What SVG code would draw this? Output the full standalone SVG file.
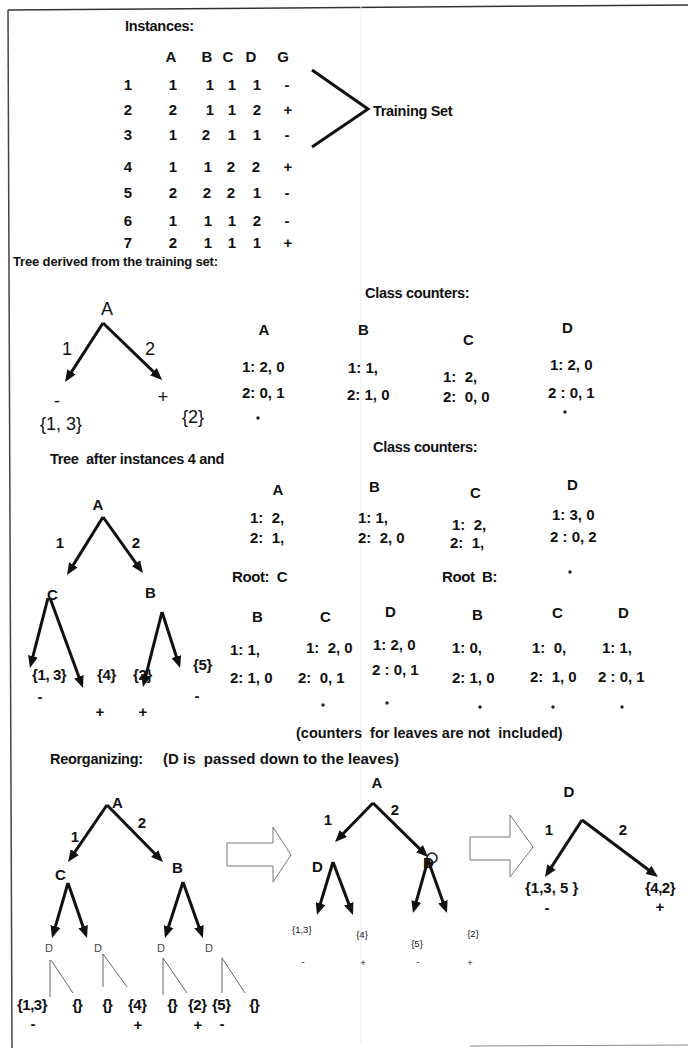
<svg xmlns="http://www.w3.org/2000/svg" width="688" height="1050" viewBox="0 0 688 1050">
<style>
text{font-family:"Liberation Sans",Arial,sans-serif;fill:#111;white-space:pre}
.b{font-weight:bold}
.h{font-weight:bold;font-size:14.5px;letter-spacing:-0.3px}
.t{font-weight:bold;font-size:15px;text-anchor:middle}
.c{font-weight:bold;font-size:15px}
.r{font-size:18px}
.s{font-size:9.5px}
.d{font-size:11px;fill:#444}
.e{stroke:#111;stroke-width:3;fill:none;marker-end:url(#ah)}
.th{stroke:#666;stroke-width:1;fill:none}
.ho{stroke:#777;stroke-width:1;fill:#fff}
.m{text-anchor:middle}
</style>
<defs>
<marker id="ah" viewBox="0 0 12 10" refX="5" refY="5" markerWidth="12" markerHeight="10" markerUnits="userSpaceOnUse" orient="auto"><path d="M0,0 L12,5 L0,10 z" fill="#111"/></marker>
</defs>
<rect width="688" height="1050" fill="#fff"/>
<g id="page-frame">
<line x1="8" y1="10" x2="688" y2="5" stroke="#333" stroke-width="1.5"/>
<line x1="8" y1="10" x2="12" y2="1048" stroke="#444" stroke-width="1.5"/>
<line x1="470" y1="1046" x2="688" y2="1045" stroke="#888" stroke-width="1"/>
<line x1="361" y1="6" x2="361" y2="1045" stroke="#ededed" stroke-width="1"/>
</g>

<g id="instances-table">
<text class="h" x="125" y="31">Instances:</text>
<text class="t" x="171" y="62">A</text><text class="t" x="207" y="62">B</text><text class="t" x="228" y="62">C</text><text class="t" x="251" y="62">D</text><text class="t" x="283" y="62">G</text>
<g id="row1"><text class="t" x="128" y="90">1</text><text class="t" x="173" y="90">1</text><text class="t" x="210" y="90">1</text><text class="t" x="232" y="90">1</text><text class="t" x="257" y="90">1</text><text class="t" x="287" y="90">-</text></g>
<g id="row2"><text class="t" x="128" y="115">2</text><text class="t" x="173" y="115">2</text><text class="t" x="210" y="115">1</text><text class="t" x="232" y="115">1</text><text class="t" x="257" y="115">2</text><text class="t" x="288" y="115">+</text></g>
<g id="row3"><text class="t" x="128" y="140">3</text><text class="t" x="173" y="140">1</text><text class="t" x="206" y="140">2</text><text class="t" x="232" y="140">1</text><text class="t" x="257" y="140">1</text><text class="t" x="287" y="140">-</text></g>
<g id="row4"><text class="t" x="128" y="172">4</text><text class="t" x="173" y="172">1</text><text class="t" x="208" y="172">1</text><text class="t" x="231" y="172">2</text><text class="t" x="256" y="172">2</text><text class="t" x="288" y="172">+</text></g>
<g id="row5"><text class="t" x="128" y="198">5</text><text class="t" x="173" y="198">2</text><text class="t" x="207" y="198">2</text><text class="t" x="231" y="198">2</text><text class="t" x="257" y="198">1</text><text class="t" x="287" y="198">-</text></g>
<g id="row6"><text class="t" x="128" y="226">6</text><text class="t" x="173" y="226">1</text><text class="t" x="208" y="226">1</text><text class="t" x="232" y="226">1</text><text class="t" x="257" y="226">2</text><text class="t" x="287" y="226">-</text></g>
<g id="row7"><text class="t" x="128" y="248">7</text><text class="t" x="173" y="248">2</text><text class="t" x="208" y="248">1</text><text class="t" x="232" y="248">1</text><text class="t" x="257" y="248">1</text><text class="t" x="288" y="248">+</text></g>
</g>

<g id="training-set">
<polyline points="312,70 368,109 312,147" stroke="#111" stroke-width="3" fill="none"/>
<text class="h" x="373" y="116">Training Set</text>
</g>

<text class="b" x="13" y="266" font-size="13" letter-spacing="-0.15">Tree derived from the training set:</text>

<g id="tree1">
<g id="t1-A"><text class="r m" x="107" y="315">A</text></g>
<text class="r m" x="67" y="355" font-size="17">1</text>
<text class="r m" x="150" y="355" font-size="17">2</text>
<g id="t1-leaf1"><text class="r m" x="57" y="407" font-size="16">-</text><text class="r" x="40" y="430">{1, 3}</text></g>
<g id="t1-leaf2"><text class="r m" x="163" y="403" font-size="16">+</text><text class="r" x="182" y="423">{2}</text></g>
</g>

<g id="counters-1">
<text class="h" x="365" y="298">Class counters:</text>
<text class="c m" x="264" y="335">A</text><text class="c" x="242" y="372">1: 2, 0</text><text class="c" x="242" y="398">2: 0, 1</text><circle cx="258" cy="418" r="1.7" fill="#222"/>
<text class="c" x="358" y="335">B</text><text class="c" x="348" y="373">1: 1,</text><text class="c" x="347" y="400">2: 1, 0</text>
<text class="c" x="463" y="345">C</text><text class="c" x="443" y="382">1:  2,</text><text class="c" x="443" y="402">2:  0, 0</text>
<text class="c" x="562" y="333">D</text><text class="c" x="550" y="370">1: 2, 0</text><text class="c" x="548" y="398">2 : 0, 1</text><circle cx="565" cy="412" r="1.7" fill="#222"/>
</g>

<text class="h" x="50" y="464">Tree  after instances 4 and</text>

<g id="tree2">
<g id="t2-A"><text class="c m" x="98" y="510">A</text></g>
<text class="c m" x="60" y="548">1</text><text class="c m" x="136" y="548">2</text>
<g id="t2-C"><text class="c" x="47" y="600">C</text></g>
<g id="t2-B"><text class="c" x="145" y="598">B</text></g>
<g id="t2-leaves">
<text class="c" x="32" y="680" font-size="13.5" letter-spacing="-0.4">{1, 3}</text>
<text class="c" x="97" y="680" font-size="13.5" letter-spacing="-0.4">{4}</text>
<text class="c" x="133" y="680" font-size="13.5" letter-spacing="-0.4">{2}</text>
<text class="c" x="193" y="670" font-size="13.5" letter-spacing="-0.4">{5}</text>
<text class="c m" x="40" y="702" font-size="14">-</text>
<text class="c m" x="100" y="717" font-size="14">+</text>
<text class="c m" x="143" y="717" font-size="14">+</text>
<text class="c m" x="197" y="701" font-size="14">-</text>
</g>
</g>

<g id="counters-2">
<text class="c m" x="278" y="495">A</text><text class="c" x="250" y="523">1:  2,</text><text class="c" x="250" y="543">2:  1,</text>
<text class="c" x="232" y="582" letter-spacing="-0.4">Root:  C</text>
<text class="c" x="252" y="622">B</text><text class="c" x="320" y="622">C</text>
<text class="c" x="230" y="655">1: 1,</text><text class="c" x="306" y="653">1:  2, 0</text>
<text class="c" x="230" y="683">2: 1, 0</text><text class="c" x="298" y="683">2:  0, 1</text><circle cx="323" cy="705" r="1.7" fill="#222"/>
</g>

<g id="counters-3">
<text class="h" x="373" y="452">Class counters:</text>
<text class="c" x="369" y="492">B</text><text class="c" x="358" y="523">1: 1,</text><text class="c" x="358" y="543">2:  2, 0</text>
<text class="c" x="470" y="498">C</text><text class="c" x="452" y="530">1:  2,</text><text class="c" x="450" y="548">2:  1,</text>
<text class="c" x="567" y="490">D</text><text class="c" x="552" y="520">1: 3, 0</text><text class="c" x="550" y="542">2 : 0, 2</text><circle cx="570" cy="572" r="1.7" fill="#222"/>
<text class="c" x="442" y="582" letter-spacing="-0.4">Root  B:</text>
<text class="c" x="385" y="617">D</text><text class="c" x="373" y="650">1: 2, 0</text><text class="c" x="372" y="675">2 : 0, 1</text><circle cx="387" cy="703" r="1.7" fill="#222"/>
<text class="c" x="472" y="620">B</text><text class="c" x="452" y="653">1: 0,</text><text class="c" x="452" y="683">2: 1, 0</text><circle cx="480" cy="707" r="1.7" fill="#222"/>
<text class="c" x="552" y="618">C</text><text class="c" x="532" y="653">1:  0,</text><text class="c" x="530" y="682">2:  1, 0</text><circle cx="553" cy="707" r="1.7" fill="#222"/>
<text class="c" x="618" y="618">D</text><text class="c" x="602" y="653">1: 1,</text><text class="c" x="598" y="682">2 : 0, 1</text><circle cx="622" cy="707" r="1.7" fill="#222"/>
</g>

<text class="b" x="296" y="738" font-size="14.5">(counters  for leaves are not  included)</text>
<text class="h" x="50" y="764">Reorganizing:</text>
<text class="b" x="163" y="764" font-size="15">(D is  passed down to the leaves)</text>

<g id="reorg-left">
<g id="rl-A"><text class="c" x="112" y="808">A</text></g>
<text class="c m" x="75" y="842">1</text><text class="c m" x="142" y="828">2</text>
<g id="rl-C"><text class="c" x="55" y="880">C</text></g>
<g id="rl-B"><text class="c" x="172" y="873">B</text></g>
<g id="rl-D1"><text class="d m" x="49" y="952">D</text><path class="th" d="M50,960 V997 M51,960 L73,993"/></g>
<g id="rl-D2"><text class="d m" x="98" y="952">D</text><path class="th" d="M103,954 V987 M103,954 L127,987"/></g>
<g id="rl-D3"><text class="d m" x="161" y="952">D</text><path class="th" d="M163,958 V995 M163,958 L187,993"/></g>
<g id="rl-D4"><text class="d m" x="209" y="952">D</text><path class="th" d="M222,958 V993 M222,958 L245,993"/></g>
<g id="rl-leaves">
<text class="c" x="17" y="1010" font-size="13.5" letter-spacing="-0.5">{1,3}</text>
<text class="c m" x="77" y="1010" font-size="13.5" letter-spacing="-1">{}</text>
<text class="c m" x="107" y="1010" font-size="13.5" letter-spacing="-1">{}</text>
<text class="c" x="128" y="1010" font-size="13.5" letter-spacing="-0.5">{4}</text>
<text class="c m" x="172" y="1010" font-size="13.5" letter-spacing="-1">{}</text>
<text class="c" x="188" y="1010" font-size="13.5" letter-spacing="-0.5">{2}</text>
<text class="c" x="212" y="1010" font-size="13.5" letter-spacing="-0.5">{5}</text>
<text class="c m" x="254" y="1010" font-size="13.5" letter-spacing="-1">{}</text>
<text class="c m" x="33" y="1029" font-size="14">-</text>
<text class="c m" x="138" y="1030" font-size="14">+</text>
<text class="c m" x="198" y="1030" font-size="14">+</text>
<text class="c m" x="222" y="1029" font-size="14">-</text>
</g>
</g>

<g id="hollow-arrow-1"><polygon class="ho" points="227,843 273,843 273,827 291,855 273,882 273,866 227,866"/></g>

<g id="reorg-mid">
<g id="rm-A"><text class="c m" x="377" y="788">A</text></g>
<text class="c m" x="328" y="825">1</text><text class="c m" x="395" y="815">2</text>
<g id="rm-D1"><text class="c" x="312" y="872">D</text></g>
<g id="rm-D2"><text class="c" x="423" y="868">D</text><circle cx="432" cy="858" r="5" fill="none" stroke="#111" stroke-width="1.5"/></g>
<g id="rm-leaves">
<text class="s" x="292" y="933">{1,3}</text>
<text class="s m" x="362" y="938">{4}</text>
<text class="s m" x="417" y="947">{5}</text>
<text class="s m" x="473" y="937">{2}</text>
<text class="s m" x="303" y="965" font-size="11">-</text>
<text class="s m" x="363" y="966" font-size="11">+</text>
<text class="s m" x="418" y="965" font-size="11">-</text>
<text class="s m" x="470" y="966" font-size="11">+</text>
</g>
</g>

<g id="hollow-arrow-2"><polygon class="ho" points="470,837 510,837 510,815 533,847 510,877 510,860 470,860"/></g>

<g id="reorg-right">
<g id="rr-D"><text class="c m" x="569" y="797">D</text></g>
<text class="c m" x="549" y="835">1</text><text class="c m" x="623" y="835">2</text>
<g id="rr-leaf1"><text class="c" x="525" y="893">{1,3, 5 }</text><text class="c m" x="547" y="913">-</text></g>
<g id="rr-leaf2"><text class="c" x="645" y="893" letter-spacing="-0.5">{4,2}</text><text class="c m" x="660" y="912">+</text></g>
</g>

<g id="connectors">
<line class="e" x1="103" y1="323" x2="68.8" y2="376.1"/>
<line class="e" x1="103" y1="323" x2="157" y2="375.1"/>
<line class="e" x1="103" y1="517" x2="70.7" y2="569.1"/>
<line class="e" x1="103" y1="517" x2="138.9" y2="567.3"/>
<line class="e" x1="48" y1="598" x2="31.7" y2="661.2"/>
<line class="e" x1="50" y1="598" x2="80.6" y2="681.4"/>
<line class="e" x1="162" y1="612" x2="144.7" y2="680.2"/>
<line class="e" x1="162" y1="612" x2="177.9" y2="661.3"/>
<line class="e" x1="107" y1="805" x2="72" y2="856.2"/>
<line class="e" x1="107" y1="805" x2="158.1" y2="857"/>
<line class="e" x1="68" y1="883" x2="54" y2="931.3"/>
<line class="e" x1="68" y1="883" x2="84.7" y2="931.4"/>
<line class="e" x1="183" y1="882" x2="167.1" y2="931.3"/>
<line class="e" x1="183" y1="882" x2="200.6" y2="931.4"/>
<line class="e" x1="373" y1="803" x2="339.9" y2="837"/>
<line class="e" x1="373" y1="803" x2="423" y2="852.1"/>
<line class="e" x1="333" y1="862" x2="319" y2="908.3"/>
<line class="e" x1="333" y1="862" x2="350.5" y2="908.4"/>
<line class="e" x1="428" y1="860" x2="414.9" y2="906.3"/>
<line class="e" x1="428" y1="860" x2="444.6" y2="906.4"/>
<line class="e" x1="582" y1="820" x2="548.8" y2="871.1"/>
<line class="e" x1="582" y1="820" x2="652.4" y2="872.8"/>
</g>
</svg>
